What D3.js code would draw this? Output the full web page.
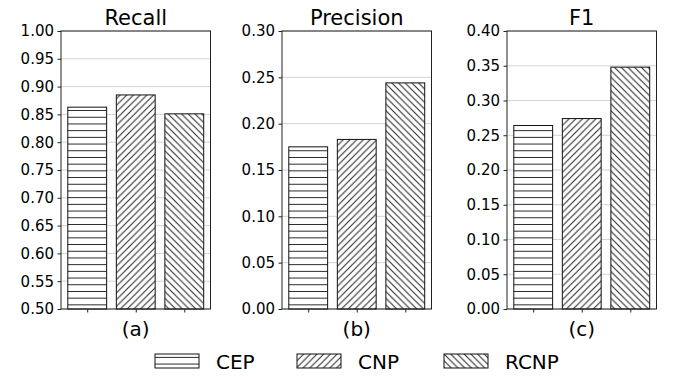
<!DOCTYPE html>
<html>
<head>
<meta charset="utf-8">
<script src="https://cdn.jsdelivr.net/npm/d3@7"></script>
<style>
  body { margin: 0; background: #fff; }
  text { font-family: "DejaVu Sans", sans-serif; fill: #000; }
</style>
</head>
<body>
<div id="chart"></div>
<script>
// data
var methods = ["CEP", "CNP", "RCNP"];
var panelTitles = ["Recall", "Precision", "F1"];
var panelLabels = ["(a)", "(b)", "(c)"];
var recall = [0.863, 0.885, 0.851];
var precision = [0.175, 0.183, 0.244];
var f1 = [0.264, 0.274, 0.348];
var recallTicks = [0.50, 0.55, 0.60, 0.65, 0.70, 0.75, 0.80, 0.85, 0.90, 0.95, 1.00];
var precisionTicks = [0.00, 0.05, 0.10, 0.15, 0.20, 0.25, 0.30];
var f1Ticks = [0.00, 0.05, 0.10, 0.15, 0.20, 0.25, 0.30, 0.35, 0.40];
var hatches = ["horiz", "fwd", "back"];

var svgWidth = 676;
var svgHeight = 378;

// one entry per panel
var panels = [
  {title: panelTitles[0], label: panelLabels[0], values: recall, ticks: recallTicks, domain: [0.5, 1.0], left: 61},
  {title: panelTitles[1], label: panelLabels[1], values: precision, ticks: precisionTicks, domain: [0, 0.3], left: 282},
  {title: panelTitles[2], label: panelLabels[2], values: f1, ticks: f1Ticks, domain: [0, 0.4], left: 507}
];
var panelWidth = 149.5;
var plotTop = 31, plotBottom = 309;

var svg = d3.select("#chart")
    .append("svg")
    .attr("width", svgWidth)
    .attr("height", svgHeight);

// hatch patterns
var defs = svg.append("defs");
var hs = 6.7;
defs.append("pattern")
    .attr("id", "horiz")
    .attr("patternUnits", "userSpaceOnUse")
    .attr("width", hs).attr("height", hs)
    .call(p => {
      p.append("rect").attr("width", hs).attr("height", hs).attr("fill", "#fff");
      p.append("line").attr("x1", 0).attr("x2", hs).attr("y1", hs / 2).attr("y2", hs / 2)
        .attr("stroke", "#222").attr("stroke-width", 1);
    });
defs.append("pattern")
    .attr("id", "fwd")
    .attr("patternUnits", "userSpaceOnUse")
    .attr("width", hs).attr("height", hs)
    .call(p => {
      p.append("rect").attr("width", hs).attr("height", hs).attr("fill", "#fff");
      p.append("path").attr("d", `M-1,1 L1,-1 M0,${hs} L${hs},0 M${hs - 1},${hs + 1} L${hs + 1},${hs - 1}`)
        .attr("stroke", "#222").attr("stroke-width", 1);
    });
defs.append("pattern")
    .attr("id", "back")
    .attr("patternUnits", "userSpaceOnUse")
    .attr("width", hs).attr("height", hs)
    .call(p => {
      p.append("rect").attr("width", hs).attr("height", hs).attr("fill", "#fff");
      p.append("path").attr("d", `M-1,${hs - 1} L1,${hs + 1} M0,0 L${hs},${hs} M${hs - 1},-1 L${hs + 1},1`)
        .attr("stroke", "#222").attr("stroke-width", 1);
    });

panels.forEach(function(panel) {
  var g = svg.append("g")
      .attr("transform", `translate(${panel.left}, 0)`);

  var x = d3.scaleLinear()
      .domain([-0.54, 2.54])
      .range([0, panelWidth]);
  var y = d3.scaleLinear()
      .domain(panel.domain)
      .range([plotBottom, plotTop]);

  // grid
  g.selectAll("line.grid")
      .data(panel.ticks)
      .enter()
      .append("line")
      .attr("x1", 0).attr("x2", panelWidth)
      .attr("y1", d => y(d)).attr("y2", d => y(d))
      .attr("stroke", "#d4d4d4")
      .attr("stroke-width", 1);

  // bars
  g.selectAll("rect.bar")
      .data(panel.values)
      .enter()
      .append("rect")
      .attr("x", (d, i) => x(i - 0.4))
      .attr("width", x(0.4) - x(-0.4))
      .attr("y", d => y(d))
      .attr("height", d => plotBottom - y(d))
      .attr("fill", (d, i) => `url(#${hatches[i]})`)
      .attr("stroke", "#111")
      .attr("stroke-width", 1);

  // frame
  g.append("rect")
      .attr("x", 0).attr("y", plotTop)
      .attr("width", panelWidth).attr("height", plotBottom - plotTop)
      .attr("fill", "none")
      .attr("stroke", "#222")
      .attr("stroke-width", 1);

  // axes
  var leftAxis = d3.axisLeft(y)
      .tickValues(panel.ticks)
      .tickFormat(d3.format(".2f"))
      .tickSize(3.5)
      .tickPadding(3.5);
  var ya = g.append("g").call(leftAxis);
  ya.select(".domain").remove();
  ya.selectAll("text").attr("font-size", "15px").attr("font-family", "DejaVu Sans");
  ya.selectAll("line").attr("stroke", "#222");

  var bottomAxis = d3.axisBottom(x)
      .tickValues([0, 1, 2])
      .tickFormat("")
      .tickSize(3.5);
  var xa = g.append("g")
      .attr("transform", `translate(0, ${plotBottom})`)
      .call(bottomAxis);
  xa.select(".domain").remove();
  xa.selectAll("line").attr("stroke", "#222");

  // title
  g.append("text")
      .attr("x", panelWidth / 2)
      .attr("y", 25)
      .attr("text-anchor", "middle")
      .attr("font-size", "21px")
      .text(panel.title);

  // sub label
  g.append("text")
      .attr("x", panelWidth / 2)
      .attr("y", 336)
      .attr("text-anchor", "middle")
      .attr("font-size", "20px")
      .text(panel.label);
});

// legend
var legendX = [155, 297, 444];
var legend = svg.selectAll("g.legend")
    .data(methods)
    .enter()
    .append("g")
    .attr("transform", (d, i) => `translate(${legendX[i]}, 354)`);
legend.append("rect")
    .attr("width", 44)
    .attr("height", 14)
    .attr("fill", (d, i) => `url(#${hatches[i]})`)
    .attr("stroke", "#111")
    .attr("stroke-width", 1);
legend.append("text")
    .attr("x", 61)
    .attr("y", 15)
    .attr("font-size", "20px")
    .text(d => d);
</script>
</body>
</html>
